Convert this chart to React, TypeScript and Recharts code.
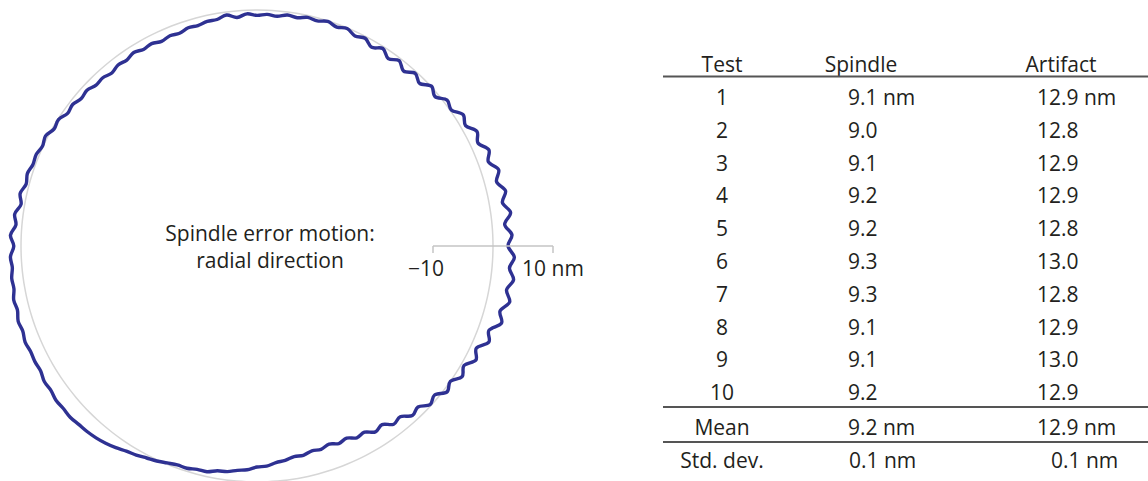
import { PolarAngleAxis, PolarRadiusAxis, Radar, RadarChart } from 'recharts';

// radial error motion (nm), every 2.5 deg, counter-clockwise from 3 o'clock
const radialError = [
  3.2, 2.1, 3.3, 2.2, 3.1, 2.0, 2.9, 1.7, 2.5, 1.3, 2.0, 0.8, 1.4, 0.2, 0.6, -0.6,
  0.1, -1.0, -0.3, -1.3, -0.4, -1.2, -0.3, -1.1, -0.3, -0.7, -0.1, -0.5, -0.1, -0.5, -0.3, -0.7,
  -0.5, -0.9, -0.7, -0.9, -0.6, -1.1, -0.5, -1.0, -1.0, -1.3, -1.2, -1.6, -1.4, -1.7, -1.3, -1.5,
  -1.1, -1.5, -1.3, -1.7, -1.3, -1.4, -0.9, -1.1, -0.6, -0.8, -0.1, -0.3, 0.4, 0.1, 0.5, 0.4,
  0.8, 0.5, 1.1, 0.6, 1.4, 1.0, 1.8, 1.2, 1.8, 1.6, 1.9, 1.8, 2.2, 2.0, 2.4, 2.2,
  2.5, 2.3, 2.4, 2.3, 2.7, 2.6, 2.9, 2.8, 2.9, 2.7, 2.6, 2.4, 2.1, 1.7, 1.2, 0.9,
  0.5, 0.2, -0.2, -0.5, -0.5, -0.8, -0.8, -1.3, -1.4, -1.8, -2.0, -2.5, -2.6, -3.1, -3.3, -3.7,
  -3.6, -4.0, -3.8, -4.2, -3.7, -4.0, -3.3, -3.5, -2.6, -3.0, -1.9, -2.2, -1.0, -1.4, -0.2, -0.7,
  0.6, 0.0, 1.2, 0.5, 1.8, 1.0, 2.5, 1.8, 3.4, 2.6, 3.8, 2.9, 3.8, 2.9, 3.6, 2.5,
];

const scaleTicks = [-10, 10];
const scaleLabels = ['\u221210', '10 nm'];

const plotLabel = ['Spindle error motion:', 'radial direction'];

const tableHeaders = ['Test', 'Spindle', 'Artifact'];
const testIds = ['1', '2', '3', '4', '5', '6', '7', '8', '9', '10'];
const spindleValues = ['9.1 nm', '9.0', '9.1', '9.2', '9.2', '9.3', '9.3', '9.1', '9.1', '9.2'];
const artifactValues = ['12.9 nm', '12.8', '12.9', '12.9', '12.8', '13.0', '12.8', '12.9', '13.0', '12.9'];
const summaryLabels = ['Mean', 'Std. dev.'];
const summarySpindle = ['9.2 nm', '0.1 nm'];
const summaryArtifact = ['12.9 nm', '0.1 nm'];

const chartData = radialError.map((err, i) => ({ step: i, err, base: 0 }));

const FONT = '"Open Sans", "Noto Sans", sans-serif';
const INK = '#231f20';

// closed Catmull-Rom path through the points recharts computed
function smoothLoop(props: any) {
  const pts = props.points || [];
  const n = pts.length;
  if (n < 3) return <g />;
  let d = `M${pts[0].x},${pts[0].y}`;
  for (let i = 0; i < n; i++) {
    const p0 = pts[(i - 1 + n) % n];
    const p1 = pts[i];
    const p2 = pts[(i + 1) % n];
    const p3 = pts[(i + 2) % n];
    const c1x = p1.x + (p2.x - p0.x) / 6;
    const c1y = p1.y + (p2.y - p0.y) / 6;
    const c2x = p2.x - (p3.x - p1.x) / 6;
    const c2y = p2.y - (p3.y - p1.y) / 6;
    d += ` C${c1x},${c1y} ${c2x},${c2y} ${p2.x},${p2.y}`;
  }
  return (
    <path
      d={d + 'Z'}
      fill="none"
      stroke={props.stroke}
      strokeWidth={props.strokeWidth}
      strokeLinejoin="round"
    />
  );
}

function ScaleTick(props: any) {
  const { x, y, payload } = props;
  const idx = scaleTicks.indexOf(payload.value);
  if (idx < 0) return <g />;
  return (
    <g>
      <line x1={x} y1={y} x2={x} y2={y + 7} stroke="#c4c4c4" strokeWidth={1.5} />
      <text
        x={x + (idx === 0 ? -7 : 0)}
        y={y + 30}
        textAnchor="middle"
        fontFamily={FONT}
        fontSize={21}
        fill={INK}
      >
        {scaleLabels[idx]}
      </text>
    </g>
  );
}

export default function App() {
  const rowY = (i: number) => 105 + i * 32.8;
  return (
    <div
      style={{
        position: 'absolute',
        left: 0,
        top: 0,
        width: 1148,
        height: 481,
        background: '#fff',
        overflow: 'hidden',
      }}
    >
      <div style={{ position: 'absolute', left: 0, top: 0 }}>
        <RadarChart
          width={600}
          height={481}
          data={chartData}
          cx={257}
          cy={246}
          innerRadius={176}
          outerRadius={296}
          startAngle={0}
          endAngle={360}
          margin={{ top: 0, right: 0, bottom: 0, left: 0 }}
        >
          <PolarAngleAxis dataKey="step" tick={false} axisLine={false} tickLine={false} />
          <Radar
            dataKey="base"
            stroke="#d6d6d6"
            strokeWidth={1.5}
            fill="none"
            dot={false}
            isAnimationActive={false}
            shape={smoothLoop}
          />
          <PolarRadiusAxis
            angle={0}
            type="number"
            domain={[-10, 10]}
            allowDataOverflow
            tickCount={5}
            axisLine={{ stroke: '#c4c4c4', strokeWidth: 1.5 }}
            tick={<ScaleTick />}
          />
          <Radar
            dataKey="err"
            stroke="#2e3192"
            strokeWidth={3.4}
            fill="none"
            dot={false}
            isAnimationActive={false}
            shape={smoothLoop}
          />
        </RadarChart>
      </div>

      <svg
        width={1148}
        height={481}
        style={{ position: 'absolute', left: 0, top: 0, pointerEvents: 'none' }}
        fontFamily={FONT}
        fontSize={21}
        fill={INK}
      >
        {plotLabel.map((t, i) => (
          <text key={t} x={270} y={241 + i * 27} textAnchor="middle">
            {t}
          </text>
        ))}

        <text x={722} y={72} textAnchor="middle">{tableHeaders[0]}</text>
        <text x={861} y={72} textAnchor="middle">{tableHeaders[1]}</text>
        <text x={1061} y={72} textAnchor="middle">{tableHeaders[2]}</text>
        <line x1={663} y1={76.5} x2={1148} y2={76.5} stroke="#555" strokeWidth={2} />

        {testIds.map((id, i) => (
          <g key={id}>
            <text x={722} y={rowY(i)} textAnchor="middle">{id}</text>
            <text x={848} y={rowY(i)}>{spindleValues[i]}</text>
            <text x={1037} y={rowY(i)}>{artifactValues[i]}</text>
          </g>
        ))}

        <line x1={663} y1={407} x2={1148} y2={407} stroke="#555" strokeWidth={2} />
        <text x={722} y={435} textAnchor="middle">{summaryLabels[0]}</text>
        <text x={848} y={435}>{summarySpindle[0]}</text>
        <text x={1037} y={435}>{summaryArtifact[0]}</text>
        <line x1={663} y1={442} x2={1148} y2={442} stroke="#555" strokeWidth={2} />
        <text x={722} y={468} textAnchor="middle">{summaryLabels[1]}</text>
        <text x={849} y={468}>{summarySpindle[1]}</text>
        <text x={1051} y={468}>{summaryArtifact[1]}</text>
      </svg>
    </div>
  );
}
